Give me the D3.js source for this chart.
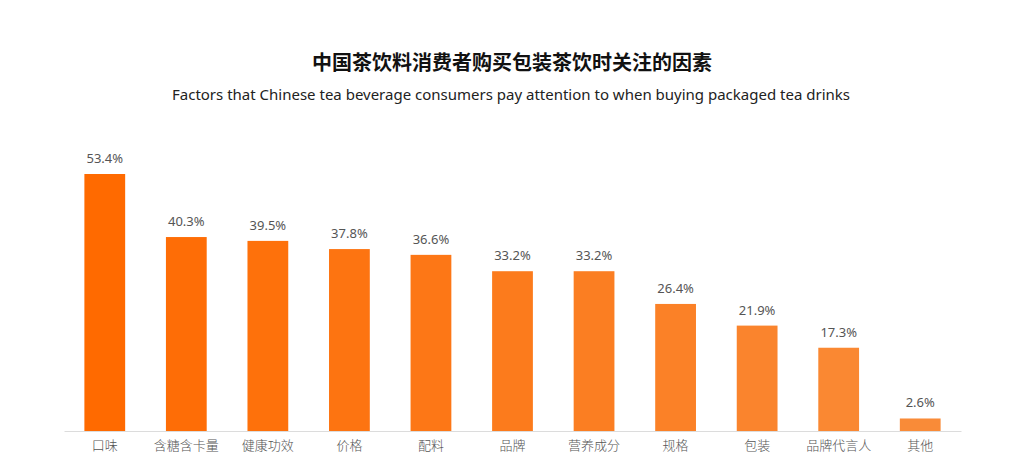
<!DOCTYPE html>
<html>
<head>
<meta charset="utf-8">
<script src="https://cdn.jsdelivr.net/npm/d3@7"></script>
<style>
  html, body { margin: 0; padding: 0; background: #fff; }
  svg { display: block; font-family: "Noto Sans", "Noto Sans CJK SC", sans-serif; }
</style>
</head>
<body>
<div id="chart"></div>
<script>
// Data

const categories = ["口味", "含糖含卡量", "健康功效", "价格", "配料", "品牌", "营养成分", "规格", "包装", "品牌代言人", "其他"];
const values = [53.4, 40.3, 39.5, 37.8, 36.6, 33.2, 33.2, 26.4, 21.9, 17.3, 2.6];

const titleText = "中国茶饮料消费者购买包装茶饮时关注的因素";
const subtitleText = "Factors that Chinese tea beverage consumers pay attention to when buying packaged tea drinks";

// Config

const width = 1024;
const height = 469;
const margin = { top: 174, right: 63, bottom: 38, left: 64 };

const svg = d3.select("#chart")
  .append("svg")
  .attr("width", width)
  .attr("height", height);

// Titles

svg.append("text")
  .attr("x", 512)
  .attr("y", 70)
  .attr("text-anchor", "middle")
  .attr("font-family", "'Noto Sans CJK SC', sans-serif")
  .attr("font-size", 20)
  .attr("font-weight", "bold")
  .attr("fill", "#111")
  .text(titleText);

svg.append("text")
  .attr("x", 511)
  .attr("y", 100)
  .attr("text-anchor", "middle")
  .attr("font-size", 15)
  .attr("fill", "#222")
  .text(subtitleText);

// Scales

const xScale = d3.scaleBand()
  .domain(categories)
  .range([margin.left, width - margin.right])
  .paddingInner(0.5)
  .paddingOuter(0.25);

const yScale = d3.scaleLinear()
  .domain([0, 53.4])
  .range([height - margin.bottom, margin.top]);

const colour = d3.scaleLinear()
  .domain([0, categories.length - 1])
  .range(["#ff6a00", "#f98b38"]);

// Axis

const xAxis = d3.axisBottom(xScale).tickSize(0).tickPadding(10);

const gx = svg.append("g")
  .attr("transform", "translate(0," + (height - margin.bottom) + ")")
  .call(xAxis);

gx.select(".domain").attr("stroke", "#dcdcdc");
gx.selectAll(".tick text")
  .attr("font-family", "'Noto Sans CJK SC', sans-serif")
  .attr("font-size", 13)
  .attr("font-weight", 300)
  .attr("fill", "#555");

// Bars

svg.selectAll("rect.bar")
  .data(values)
  .join("rect")
  .attr("class", "bar")
  .attr("x", (d, i) => xScale(categories[i]))
  .attr("y", d => yScale(d))
  .attr("width", xScale.bandwidth())
  .attr("height", d => yScale(0) - yScale(d))
  .attr("fill", (d, i) => colour(i));

// Value labels

svg.selectAll("text.val")
  .data(values)
  .join("text")
  .attr("class", "val")
  .attr("x", (d, i) => xScale(categories[i]) + xScale.bandwidth() / 2)
  .attr("y", d => yScale(d) - 11)
  .attr("text-anchor", "middle")
  .attr("font-size", 13)
  .attr("fill", "#555")
  .text(d => d.toFixed(1) + "%");
</script>
</body>
</html>
